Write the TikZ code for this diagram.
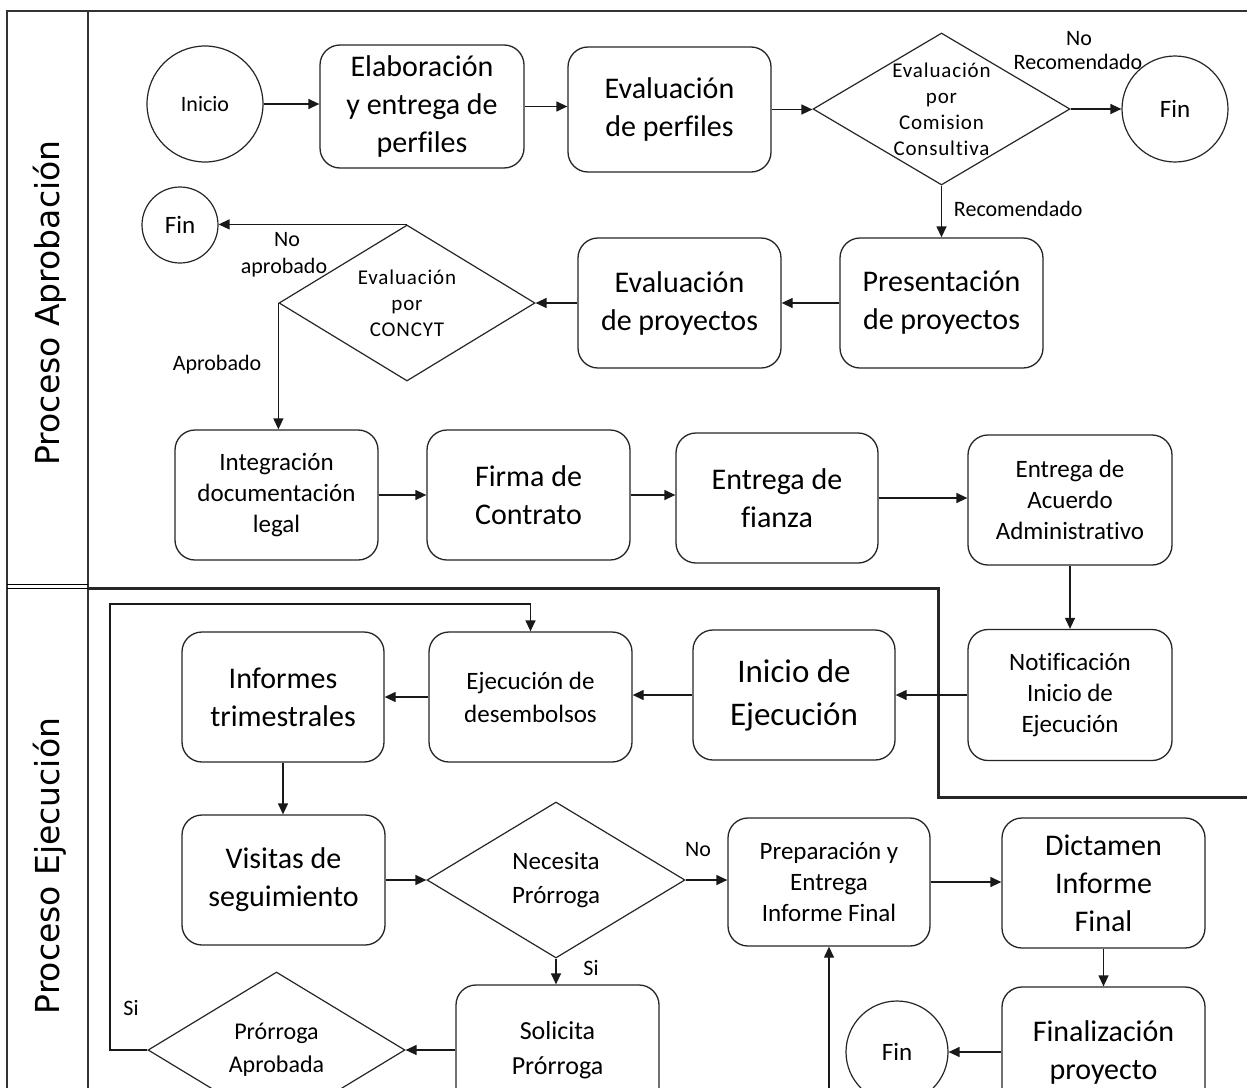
\documentclass[tikz,border=0pt]{standalone}
\usepackage{fontspec}
\setmainfont{Carlito}[Ligatures={NoCommon}]
\newfontfamily\lanefont{DejaVu Sans}
\newfontfamily\widefont{Carlito}[Ligatures={NoCommon},LetterSpace=4]
\usetikzlibrary{shapes.geometric,arrows.meta}
\newcommand\fsz[2]{\fontsize{#1}{#2}\selectfont}
\begin{document}
\begin{tikzpicture}[x=1pt,y=-1pt,
  line width=1.3pt,
  box/.style={draw=black!85, rounded corners=20pt, align=center, inner sep=0pt, line width=1.3pt},
  dia/.style={draw=black!85, diamond, inner sep=0pt, line width=1.2pt},
  term/.style={draw=black!85, circle, inner sep=0pt, line width=1.2pt},
  big/.style={font=\fsz{30}{38}},
  mid/.style={font=\fsz{25}{31}},
  sml/.style={font=\fsz{22}{26}},
  dtxt/.style={font=\widefont\fsz{21}{26}},
  arr/.style={draw=black!90, line width=1.3pt, -{Triangle[length=11pt,width=10pt]}},
  lanetxt/.style={rotate=90, font=\lanefont\fsz{33}{40}}
]
\useasboundingbox (0,0) rectangle (1247,1087);
\fill[white] (0,0) rectangle (1247,1087);
\clip (0,0) rectangle (1247,1087);

% lanes
\draw[line width=1.6pt, draw=black!80] (1260,11) -- (7,11) -- (7,1100);
\draw[line width=1.4pt, draw=black!80] (88,11) -- (88,1100);
\draw[line width=0.9pt] (7,584.5) -- (88,584.5);
\draw[line width=0.9pt] (7,588.5) -- (88,588.5);
\draw[line width=3pt, draw=black!85] (88,588) -- (938,588) -- (938,797) -- (1260,797);
\node[lanetxt] (lane1) at (50,303) {Proceso Aprobación};
\node[lanetxt] (lane2) at (50,866) {Proceso Ejecución};

% row 1
\node[term, minimum size=116pt, sml] (ini) at (205,104) {Inicio};
\node[box, big, minimum width=204pt, minimum height=123pt] (elab) at (422,106.5) {Elaboración\\y entrega de\\perfiles};
\node[box, big, minimum width=203pt, minimum height=125pt] (evp) at (669.5,109.5) {Evaluación\\de perfiles};
\node[dia, minimum width=257pt, minimum height=152pt,
  label={[dtxt, align=center]center:{Evaluación\\por\\Comision\\Consultiva}}] (d1) at (941.5,109) {};
\node[term, minimum size=106pt, font=\fsz{25}{30}] (fin1) at (1175,109) {Fin};

% row 2
\node[term, minimum size=76pt, font=\fsz{25}{30}] (fin2) at (180,225) {Fin};
\node[dia, minimum width=256pt, minimum height=156pt,
  label={[dtxt, align=center]center:{Evaluación\\por\\CONCYT}}] (d2) at (407,303) {};
\node[box, big, minimum width=203pt, minimum height=130pt] (evpr) at (679.5,303) {Evaluación\\de proyectos};
\node[box, big, minimum width=203pt, minimum height=130pt] (pres) at (941.5,303) {Presentación\\de proyectos};

% row 3
\node[box, mid, minimum width=203pt, minimum height=130pt] (integ) at (276.5,495) {Integración\\documentación\\legal};
\node[box, big, minimum width=203pt, minimum height=130pt] (firma) at (528.5,495) {Firma de\\Contrato};
\node[box, big, minimum width=202pt, minimum height=130pt] (fianza) at (777,498) {Entrega de\\fianza};
\node[box, mid, minimum width=204pt, minimum height=130pt] (acuerdo) at (1070,500) {Entrega de\\Acuerdo\\Administrativo};

% row 4
\node[box, mid, minimum width=204pt, minimum height=131pt] (notif) at (1070,695) {Notificación\\Inicio de\\Ejecución};
\node[box, font=\fsz{33}{43}, minimum width=202pt, minimum height=130pt] (inicioej) at (794,695) {Inicio de\\Ejecución};
\node[box, font=\fsz{25}{33}, minimum width=203pt, minimum height=130pt] (ejdes) at (530.5,697) {Ejecución de\\desembolsos};
\node[box, big, minimum width=202pt, minimum height=130pt] (inftri) at (283,697) {Informes\\trimestrales};

% row 5
\node[box, big, minimum width=203pt, minimum height=130pt] (visitas) at (283.5,880) {Visitas de\\seguimiento};
\node[dia, minimum width=258pt, minimum height=156pt,
  label={[font=\fsz{25}{34}, align=center]center:{Necesita\\Prórroga}}] (d3) at (556,880) {};
\node[box, mid, minimum width=202pt, minimum height=128pt] (prep) at (829,882) {Preparación y\\Entrega\\Informe Final};
\node[box, big, minimum width=203pt, minimum height=130pt] (dict) at (1103.5,883) {Dictamen\\Informe\\Final};

% row 6
\node[dia, minimum width=257pt, minimum height=156pt,
  label={[font=\fsz{24}{33}, align=center]center:{Prórroga\\Aprobada}}] (d4) at (276.5,1050) {};
\node[box, font=\fsz{26}{35}, minimum width=203pt, minimum height=130pt] (solic) at (557.5,1050) {Solicita\\Prórroga};
\node[term, minimum size=102pt, font=\fsz{25}{30}] (fin3) at (897,1052) {Fin};
\node[box, big, minimum width=203pt, minimum height=130pt] (final) at (1103.5,1052) {Finalización\\proyecto};

% connectors
\draw[arr] (ini.east) -- (ini.east -| elab.west);
\draw[arr] (elab.east) -- (elab.east -| evp.west);
\draw[arr] (evp.east) -- (evp.east -| d1.west);
\draw[arr] (d1.east) -- (fin1.west);
\draw[arr] (d1.south) -- (d1.south |- pres.north);
\draw[arr] (pres.west) -- (pres.west -| evpr.east);
\draw[arr] (evpr.west) -- (evpr.west -| d2.east);
\draw[arr] (d2.north) -- (d2.north -| fin2.east);
\draw[arr] (d2.west) -- (d2.west |- integ.north);
\draw[arr] (integ.east) -- (integ.east -| firma.west);
\draw[arr] (firma.east) -- (firma.east -| fianza.west);
\draw[arr] (fianza.east) -- (fianza.east -| acuerdo.west);
\draw[arr] (acuerdo.south) -- (notif.north);
\draw[arr] (notif.west) -- (notif.west -| inicioej.east);
\draw[arr] (inicioej.west) -- (inicioej.west -| ejdes.east);
\draw[arr] (ejdes.west) -- (ejdes.west -| inftri.east);
\draw[arr] (inftri.south) -- (inftri.south |- visitas.north);
\draw[arr] (visitas.east) -- (visitas.east -| d3.west);
\draw[arr] (d3.east) -- (d3.east -| prep.west);
\draw[arr] (prep.east) -- (prep.east -| dict.west);
\draw[arr] (d3.south) -- (d3.south |- solic.north);
\draw[arr] (dict.south) -- (dict.south |- final.north);
\draw[arr] (solic.west) -- (solic.west -| d4.east);
\draw[arr] (final.west) -- (final.west -| fin3.east);
\coordinate (lp) at (110,604);
\draw[arr] (d4.west) -| (lp) -| (ejdes.north);
\coordinate (bt) at (829,1110);
\draw[arr] (bt) -- (bt |- prep.south);

% edge labels
\node[sml] (lno1) at (1079,39) {No};
\node[sml] (lrec1) at (1078,62) {Recomendado};
\node[sml, anchor=west] (lrec2) at (950,209) {Recomendado};
\node[sml] (lno2) at (287,240) {No};
\node[sml] (lnoap) at (284,268) {aprobado};
\node[sml] (lap) at (217,365) {Aprobado};
\node[sml] (lno3) at (698,850) {No};
\node[sml] (lsi1) at (591,968) {Si};
\node[sml] (lsi2) at (131,1008) {Si};
\end{tikzpicture}
\end{document}
